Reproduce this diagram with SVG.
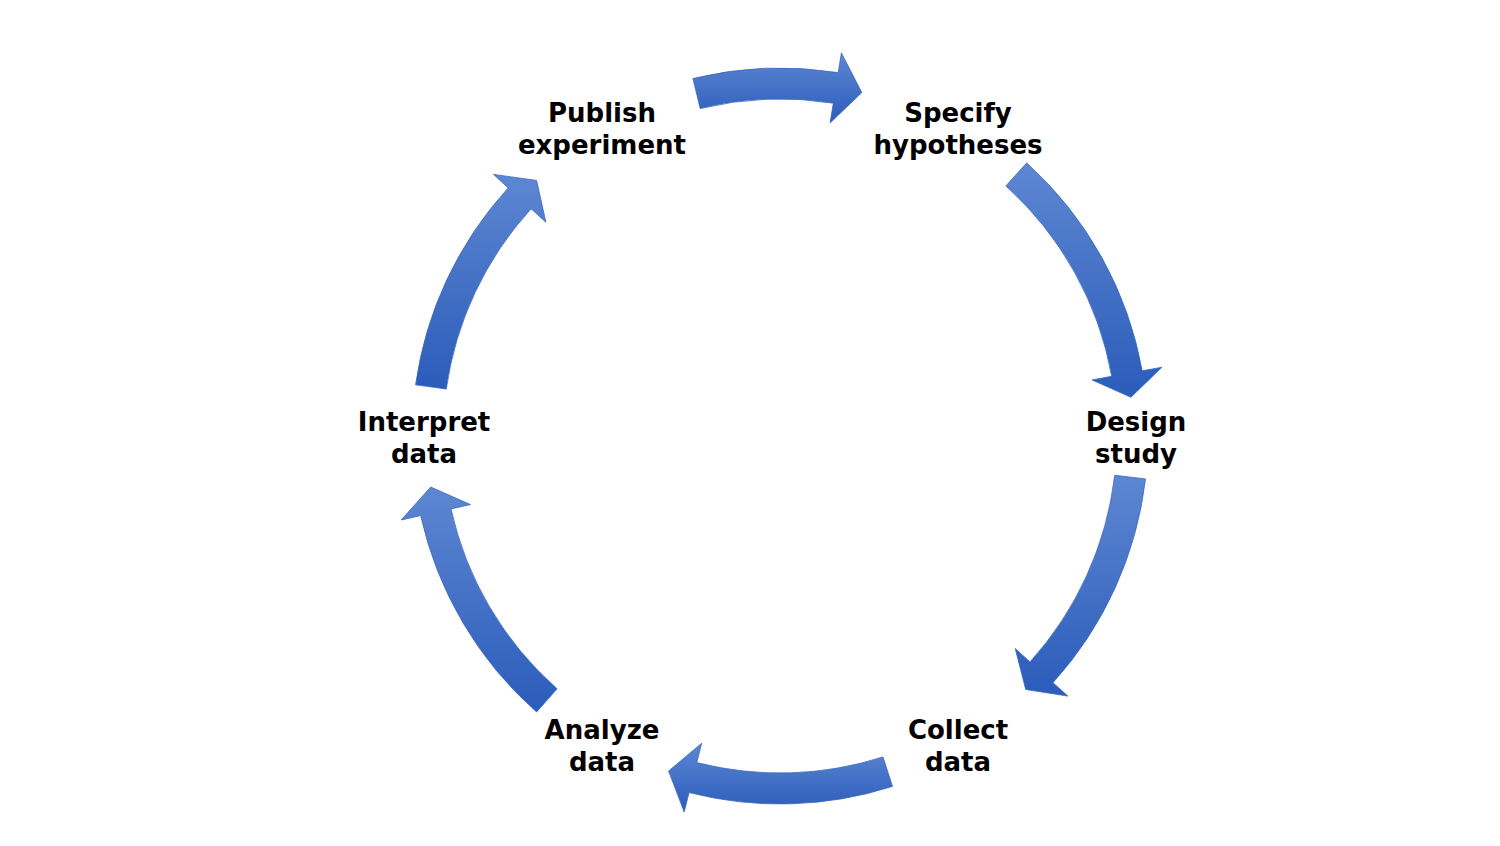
<svg xmlns="http://www.w3.org/2000/svg" width="1500" height="846" viewBox="0 0 1500 846">
<defs>
<linearGradient id="g" x1="0" y1="0" x2="0" y2="1">
<stop offset="0" stop-color="#5e87d2"/>
<stop offset="1" stop-color="#2b5cba"/>
</linearGradient>
<style>
.arr{fill:url(#g);stroke:#3a68c2;stroke-width:0.8;stroke-linejoin:miter}
.lbl{font-family:"DejaVu Sans","Open Sans",sans-serif;font-weight:700;font-size:26px;fill:#000;text-anchor:middle}
</style>
</defs>
<rect width="1500" height="846" fill="#fff"/>
<g id="connectors">
<path class="arr" d="M692.9,78.5 A368,368 0 0 1 838.2,72.6 L841.4,52.9 L861.8,92.6 L830.1,123.0 L833.3,103.2 A337,337 0 0 0 700.2,108.6 Z"/>
<path class="arr" d="M1026.7,162.9 A368,368 0 0 1 1142.2,370.8 L1161.9,367.3 L1130.9,397.3 L1092.0,379.9 L1111.7,376.3 A337,337 0 0 0 1005.9,185.9 Z"/>
<path class="arr" d="M1145.5,478.9 A368,368 0 0 1 1053.0,682.7 L1067.9,696.1 L1025.7,689.5 L1015.2,648.5 L1030.0,661.9 A337,337 0 0 0 1114.7,475.3 Z"/>
<path class="arr" d="M892.5,786.4 A368,368 0 0 1 689.1,792.6 L684.2,812.0 L668.6,771.0 L701.7,743.2 L696.8,762.6 A337,337 0 0 0 883.0,756.9 Z"/>
<path class="arr" d="M536.6,712.0 A368,368 0 0 1 420.7,515.6 L401.2,520.0 L430.7,487.0 L470.5,504.6 L451.0,508.9 A337,337 0 0 0 557.1,688.8 Z"/>
<path class="arr" d="M415.6,384.8 A368,368 0 0 1 508.2,187.9 L493.5,174.4 L536.6,180.4 L545.9,222.2 L531.1,208.8 A337,337 0 0 0 446.3,389.1 Z"/>
</g>
<g id="publish"><text class="lbl" x="602" y="122">Publish</text><text class="lbl" x="602" y="154">experiment</text></g>
<g id="specify"><text class="lbl" x="958" y="122">Specify</text><text class="lbl" x="958" y="154">hypotheses</text></g>
<g id="design"><text class="lbl" x="1136" y="431">Design</text><text class="lbl" x="1136" y="463">study</text></g>
<g id="collect"><text class="lbl" x="958" y="739">Collect</text><text class="lbl" x="958" y="771">data</text></g>
<g id="analyze"><text class="lbl" x="602" y="739">Analyze</text><text class="lbl" x="602" y="771">data</text></g>
<g id="interpret"><text class="lbl" x="424" y="431">Interpret</text><text class="lbl" x="424" y="463">data</text></g>
</svg>
